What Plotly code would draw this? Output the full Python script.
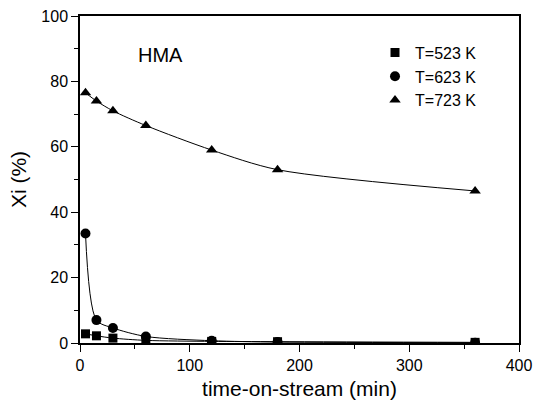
import plotly.graph_objects as go

t_523 = [5, 15, 30, 60, 120, 180, 360]
x_523 = [2.8, 2.2, 1.5, 0.8, 0.5, 0.4, 0.2]

t_623 = [5, 15, 30, 60, 120, 180, 360]
x_623 = [33.5, 7.0, 4.6, 2.0, 0.7, 0.3, 0.1]

t_723 = [5, 15, 30, 60, 120, 180, 360]
x_723 = [76.5, 74.0, 71.0, 66.5, 59.0, 53.0, 46.5]

labels = ["T=523 K", "T=623 K", "T=723 K"]
symbols = ["square", "circle", "triangle-up"]

FONT = "Liberation Sans, Arial, sans-serif"

fig = go.Figure()
series = [(t_523, x_523), (t_623, x_623), (t_723, x_723)]
sizes = [9, 10, 10]
for (t, x), lab, sym, sz in zip(series, labels, symbols, sizes):
    fig.add_trace(go.Scatter(x=t, y=x, mode="lines", line=dict(color="black", width=1, shape="spline", smoothing=0.8),
                             showlegend=False, hoverinfo="skip"))
    fig.add_trace(go.Scatter(x=t, y=x, mode="markers", name=lab,
                             marker=dict(symbol=sym, size=sz, color="black")))

fig.add_annotation(x=0.1276, y=0.882, xref="paper", yref="paper", text="HMA", showarrow=False,
                   xanchor="left", yanchor="middle", font=dict(family=FONT, size=20, color="black"))

axis_common = dict(showline=True, linecolor="black", linewidth=1.5, mirror=True, ticks="outside",
                   ticklen=7, tickwidth=1.2, tickcolor="black", showgrid=False, zeroline=False,
                   automargin=False,
                   tickfont=dict(family=FONT, size=16, color="black"))

fig.update_xaxes(range=[0, 400], dtick=100, tick0=0,
                 minor=dict(ticks="outside", ticklen=4, dtick=50, tickcolor="black"),
                 title=dict(text="time-on-stream (min)", font=dict(family=FONT, size=21, color="black"), standoff=8),
                 **axis_common)
fig.update_yaxes(range=[0, 100], dtick=20, tick0=0,
                 minor=dict(ticks="outside", ticklen=4, dtick=10, tickcolor="black"),
                 title=dict(text="Xi (%)", font=dict(family=FONT, size=21, color="black"), standoff=9),
                 **axis_common)

fig.update_layout(
    width=535, height=403,
    margin=dict(l=80, r=16, t=16, b=60),
    plot_bgcolor="white", paper_bgcolor="white",
    legend=dict(x=0.672, y=0.94, xanchor="left", yanchor="top", bgcolor="rgba(0,0,0,0)",
                font=dict(family=FONT, size=16, color="black"), itemwidth=30, tracegroupgap=0),
    font=dict(family=FONT, color="black"),
)

fig.write_html("out.html", config={"displayModeBar": False},
               post_script="document.body.style.margin='0';document.body.style.padding='0';")
